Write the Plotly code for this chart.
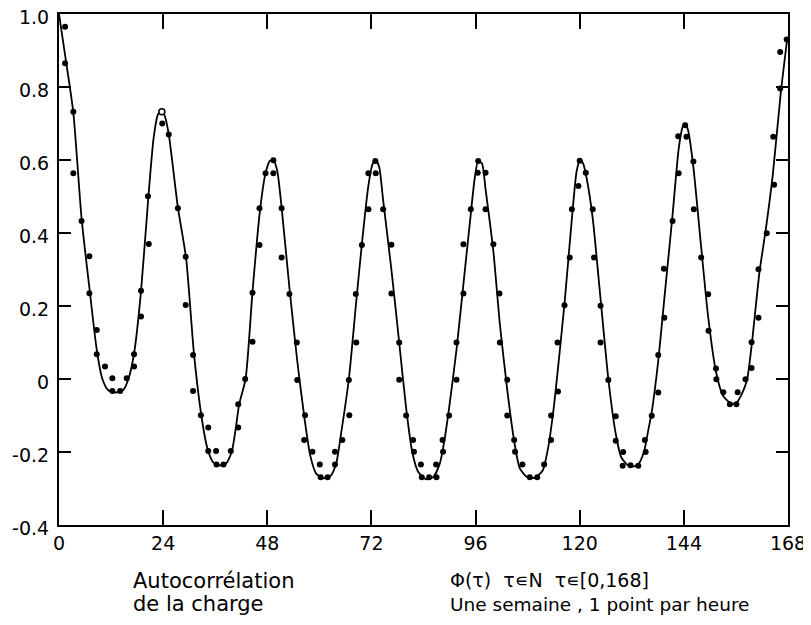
import plotly.graph_objects as go

# Solid curve
line_tau = [0, 1.5, 3.3, 5.2, 7.0, 8.7, 10.0, 11.3, 13.0, 14.8, 16.0, 17.3, 18.9, 20.6, 21.8, 22.8, 23.6, 24.4, 25.3,
            27.4, 29.3, 31.1, 32.8, 34.2, 35.5, 37.0, 38.5, 39.8, 40.8, 41.5, 43.0, 44.6, 46.3, 47.6, 48.6,
            49.4, 50.3, 51.3, 53.1, 54.9, 56.6, 57.9, 59.3, 61.0, 62.6, 63.9, 65.0, 66.8, 68.4, 69.8, 71.3,
            72.3, 73.0, 73.8, 74.7, 76.6, 78.4, 80.0, 81.4, 82.8, 84.6, 86.3, 87.8, 88.8, 89.9, 91.6, 93.2,
            94.7, 95.8, 96.6, 97.5, 98.3, 100.1, 101.6, 103.3, 104.9, 106.2, 108.0, 109.8, 111.5, 112.7,
            113.8, 115.0, 116.6, 118.2, 119.3, 120.1, 120.8, 121.6, 123.0, 124.8, 126.6, 128.3, 129.6, 131.5,
            133.4, 134.8, 135.8, 136.6, 138.1, 139.5, 141.4, 142.8, 143.7, 144.3, 145.0, 146.2, 148.0, 149.6,
            151.4, 153.0, 154.6, 155.4, 156.1, 157.4, 158.6, 159.7, 161.4, 163.0, 164.5, 166.3, 167.8]
line_phi = [1.0, 0.88, 0.73, 0.44, 0.25, 0.08, 0.0, -0.03, -0.037, -0.03, 0.0, 0.07, 0.24, 0.50, 0.66, 0.725, 0.738, 0.72, 0.67,
            0.47, 0.33, 0.07, -0.10, -0.19, -0.228, -0.237, -0.232, -0.20, -0.13, -0.07, 0.0, 0.24, 0.46, 0.564, 0.598,
            0.60, 0.57, 0.47, 0.25, 0.05, -0.11, -0.21, -0.26, -0.272, -0.265, -0.23, -0.15, 0.0, 0.20, 0.37, 0.53,
            0.59, 0.60, 0.58, 0.49, 0.30, 0.10, -0.08, -0.20, -0.255, -0.275, -0.268, -0.23, -0.17, -0.08, 0.08, 0.26,
            0.43, 0.55, 0.598, 0.59, 0.52, 0.35, 0.15, -0.03, -0.17, -0.245, -0.27, -0.27, -0.25, -0.19,
            -0.10, 0.03, 0.22, 0.44, 0.57, 0.60, 0.59, 0.55, 0.44, 0.22, 0.0, -0.15, -0.215, -0.24,
            -0.235, -0.20, -0.14, -0.09, 0.05, 0.22, 0.45, 0.63, 0.69, 0.70, 0.68, 0.58, 0.36, 0.17,
            0.02, -0.045, -0.065, -0.068, -0.065, -0.04, 0.0, 0.10, 0.29, 0.42, 0.56, 0.78, 0.93]

dot_tau = [1.4, 1.4, 3.3, 3.3, 5.2, 7.0, 7.0, 8.7, 8.7, 10.6, 12.3, 12.3, 14.1, 15.6, 17.3, 17.3, 18.9, 18.9,
           20.7, 20.5, 23.8, 25.3, 27.4, 29.2, 29.2, 30.9, 30.9, 32.7, 34.4, 34.4, 36.2, 36.3, 37.9, 39.6,
           41.3, 41.3, 42.9, 44.6, 44.6, 46.2, 46.2, 47.6, 49.4, 49.4, 51.3, 51.3, 53.1, 54.8, 54.9, 56.7,
           56.5, 58.4, 60.1, 60.3, 61.9, 63.6, 63.6, 65.3, 66.9, 66.8, 68.5, 68.4, 69.8, 71.3, 71.3, 72.9,
           73.0, 74.7, 76.6, 76.6, 78.4, 78.4, 80.0, 81.6, 81.8, 83.4, 83.6, 85.3, 86.9, 87.0, 88.5, 88.4,
           89.9, 91.6, 91.6, 93.2, 93.2, 94.9, 96.5, 96.6, 98.3, 98.3, 100.1, 101.5, 101.6, 103.3, 103.3,
           104.9, 105.1, 106.8, 108.5, 110.2, 111.8, 113.4, 113.4, 115.0, 114.9, 116.5, 117.7, 118.2, 119.7,
           120.0, 121.4, 123.0, 123.3, 124.8, 124.8, 126.6, 128.3, 128.3, 130.0, 129.9, 131.7, 133.5, 135.2,
           135.0, 136.6, 138.1, 138.1, 139.5, 139.4, 141.4, 142.8, 142.7, 144.3, 144.6, 146.2, 146.3, 148.0,
           149.6, 149.7, 151.4, 151.5, 153.1, 154.6, 156.1, 156.4, 158.2, 159.6, 159.6, 161.2, 161.2, 163.1,
           164.8, 164.6, 166.2, 166.2, 167.7]
dot_phi = [0.965, 0.865, 0.732, 0.564, 0.433, 0.336, 0.235, 0.134, 0.068, 0.034, 0.002, -0.033, -0.033, 0.002,
           0.034, 0.068, 0.171, 0.242, 0.37, 0.501, 0.70, 0.670, 0.468, 0.335, 0.203, 0.066, -0.033, -0.099,
           -0.133, -0.197, -0.197, -0.234, -0.234, -0.197, -0.133, -0.069, 0.0, 0.102, 0.236, 0.367, 0.468,
           0.564, 0.599, 0.564, 0.468, 0.333, 0.233, 0.10, -0.003, -0.099, -0.167, -0.199, -0.234, -0.269,
           -0.269, -0.199, -0.234, -0.167, -0.099, -0.003, 0.10, 0.233, 0.367, 0.465, 0.564, 0.597, 0.564,
           0.465, 0.368, 0.234, 0.10, -0.002, -0.10, -0.167, -0.199, -0.234, -0.269, -0.269, -0.234, -0.269,
           -0.199, -0.167, -0.10, -0.002, 0.10, 0.234, 0.369, 0.465, 0.565, 0.597, 0.565, 0.465, 0.369,
           0.234, 0.10, -0.002, -0.10, -0.167, -0.199, -0.234, -0.269, -0.269, -0.234, -0.167, -0.10, -0.034,
           0.10, 0.202, 0.333, 0.465, 0.529, 0.598, 0.565, 0.465, 0.333, 0.201, 0.10, -0.003, -0.102, -0.169,
           -0.20, -0.238, -0.236, -0.238, -0.20, -0.167, -0.101, -0.037, 0.066, 0.168, 0.302, 0.433, 0.564,
           0.665, 0.695, 0.664, 0.596, 0.465, 0.333, 0.232, 0.132, 0.029, -0.001, -0.036, -0.069, -0.069,
           -0.036, -0.001, 0.03, 0.101, 0.168, 0.301, 0.399, 0.532, 0.664, 0.796, 0.896, 0.93]

open_tau = [23.7]
open_phi = [0.732]

x_ticks = [0, 24, 48, 72, 96, 120, 144, 168]
y_ticks = [-0.4, -0.2, 0, 0.2, 0.4, 0.6, 0.8, 1.0]
y_tick_text = ["-0.4", "-0.2", "0", "0.2", "0.4", "0.6", "0.8", "1.0"]

caption_left = ["Autocorrélation", "de la charge"]
caption_right = ["Φ(τ)  τ∊N  τ∊[0,168]", "Une semaine , 1 point par heure"]

fig = go.Figure()
fig.add_trace(go.Scatter(x=line_tau, y=line_phi, mode="lines",
                         line=dict(color="black", width=1.8, shape="spline", smoothing=0.6),
                         hoverinfo="skip"))
fig.add_trace(go.Scatter(x=dot_tau, y=dot_phi, mode="markers",
                         marker=dict(color="black", size=6)))
fig.add_trace(go.Scatter(x=open_tau, y=open_phi, mode="markers",
                         marker=dict(color="white", size=6, line=dict(color="black", width=1.5))))

axis_font = dict(family="DejaVu Sans", size=19, color="black")
fig.update_xaxes(range=[0, 168], tickvals=x_ticks, ticktext=[str(v) for v in x_ticks],
                 ticks="inside", ticklen=15, tickwidth=1.5, tickcolor="black",
                 showline=True, linecolor="black", linewidth=2, mirror="ticks",
                 showgrid=False, zeroline=False, tickfont=axis_font, automargin=False,
                 ticklabeloverflow="allow")
fig.update_yaxes(range=[-0.4, 1.0], tickvals=y_ticks, ticktext=y_tick_text,
                 ticks="inside", ticklen=12, tickwidth=1.5, tickcolor="black",
                 showline=True, linecolor="black", linewidth=2, mirror="ticks",
                 showgrid=False, zeroline=False, tickfont=axis_font, automargin=False,
                 ticklabelstandoff=4, ticklabeloverflow="allow", ticklabelshift=3)

# page body adds an 8px offset; figure is sized so the plot lands where the reference has it
OFF = 8
W, Hfig = 811 - OFF, 625 - OFF
ML, MT, MR, MB = 59 - OFF, 14 - OFF, 23, 100
PW, PH = W - ML - MR, Hfig - MT - MB

def py(pix):
    return (525.0 - pix) / PH

def px(pix):
    return (pix - 59.0) / PW

annots = [
    dict(text=caption_left[0], x=px(131), y=py(581), size=21),
    dict(text=caption_left[1], x=px(131), y=py(604), size=21),
    dict(text=caption_right[0], x=px(448), y=py(580), size=19),
    dict(text=caption_right[1], x=px(448), y=py(604), size=18.5),
]

fig.update_layout(
    width=W, height=Hfig,
    margin=dict(l=ML, r=MR, t=MT, b=MB),
    plot_bgcolor="white", paper_bgcolor="white",
    showlegend=False,
    annotations=[dict(text=a["text"], xref="paper", yref="paper", x=a["x"], y=a["y"],
                      xanchor="left", yanchor="middle", showarrow=False,
                      font=dict(family="DejaVu Sans", size=a["size"], color="black"))
                 for a in annots],
)

fig.write_html("out.html")
